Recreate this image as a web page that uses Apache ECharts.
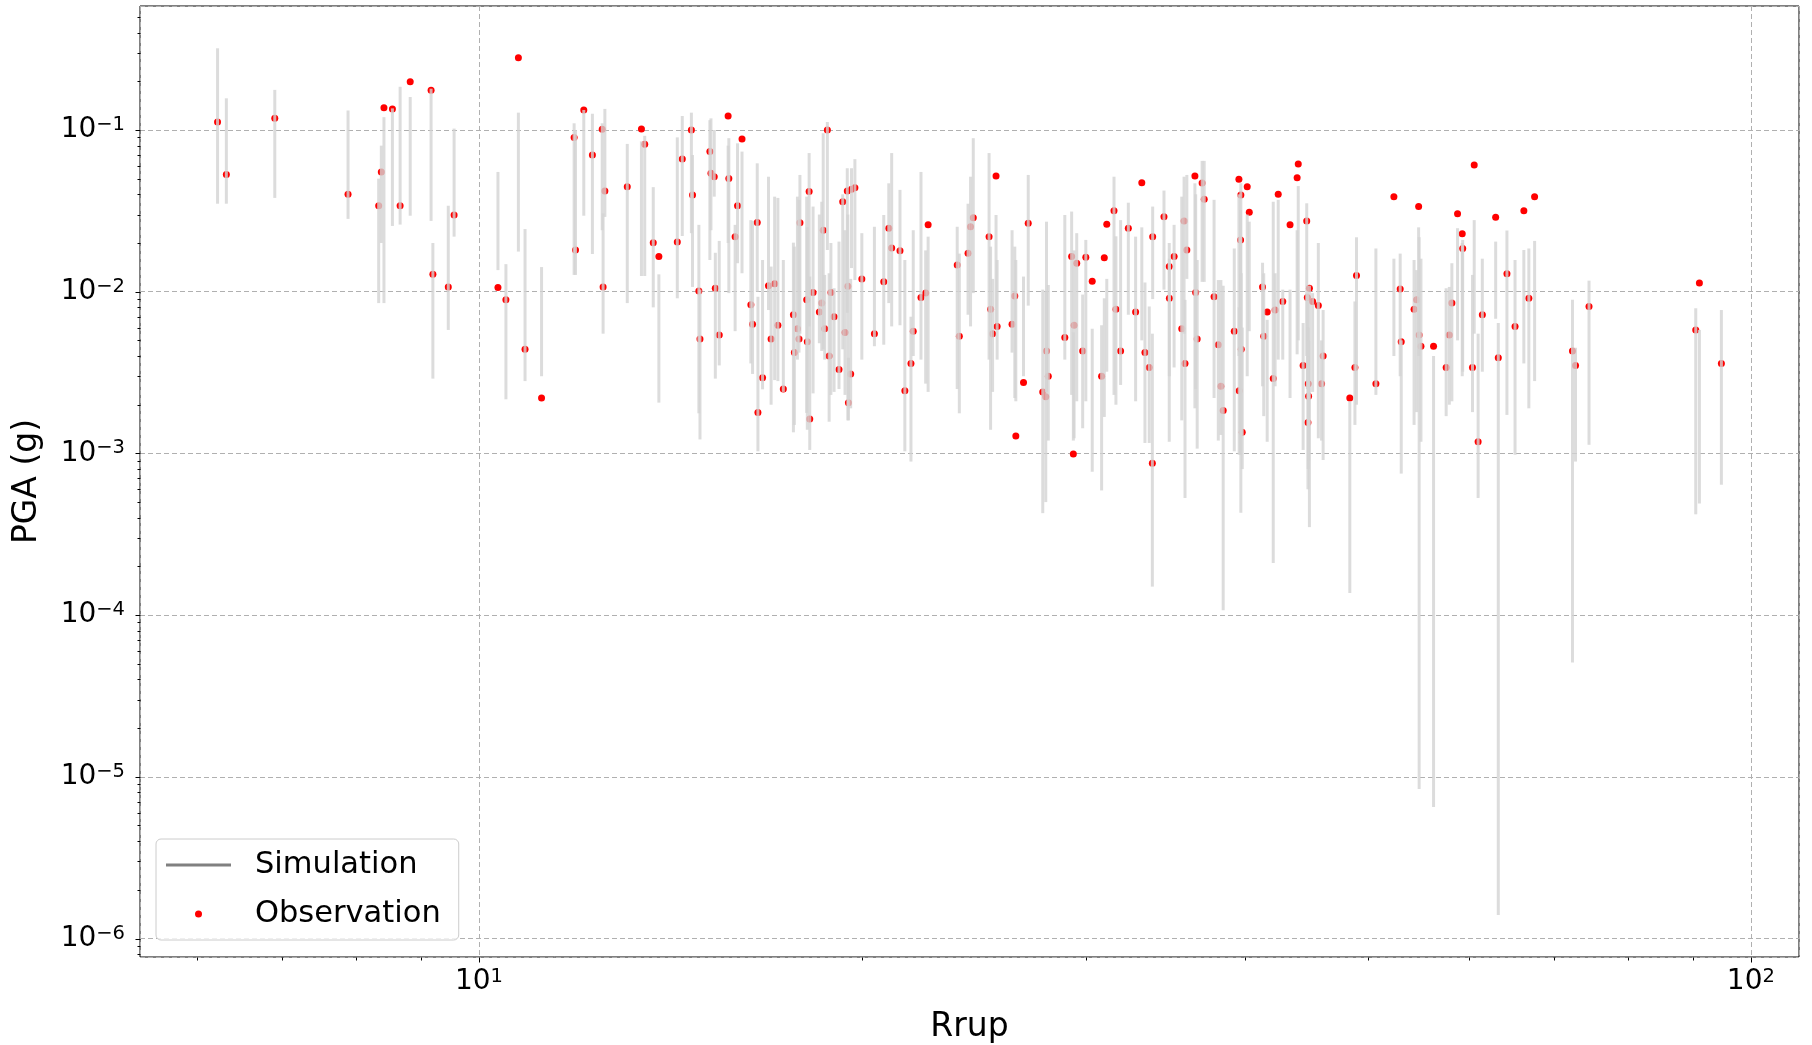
<!DOCTYPE html>
<html lang="en">
<head>
<meta charset="UTF-8">
<title>PGA vs Rrup</title>
<style>
  * { margin: 0; padding: 0; box-sizing: border-box; }
  html, body { width: 100%; height: 100%; overflow: hidden; background: #fff; }
  #box { width: 1812px; height: 1045px; }
</style>
</head>
<body>
<div id="box"></div>
<script src="https://cdn.jsdelivr.net/npm/echarts@6/dist/echarts.min.js"></script>
<script>
// one entry per station: rupture distance, observed PGA, simulated min / max
var rrup = [
  6.23, 6.33, 6.91, 7.89, 8.34, 8.42, 8.38, 8.55, 8.67, 8.83, 9.17, 9.2, 9.46, 9.56,
  10.35, 10.5, 10.74, 10.87, 11.2, 11.88, 11.91, 12.09, 12.28, 12.5, 12.56, 12.52, 13.08,
  13.42, 13.5, 13.71, 13.85, 14.32, 14.45, 14.69, 14.72, 14.89, 14.92, 15.19, 15.22, 15.31,
  15.34, 15.45, 15.7, 15.72, 16.1, 15.97, 15.9, 16.36, 16.41, 16.55, 16.57, 16.71, 16.89,
  17.08, 16.97, 17.18, 17.35, 17.88, 17.67, 17.8, 17.85, 17.7, 18.18, 18.1, 18.31, 18.12,
  18.2, 18.79, 18.65, 18.6, 18.52, 18.7, 18.85, 18.91, 19.02, 19.32, 19.48, 19.75, 19.63,
  19.5, 19.4, 19.6, 19.52, 19.19, 20.0, 20.46, 20.81, 21.0, 21.11, 21.43, 21.86, 21.62,
  21.95, 22.55, 22.26, 22.45, 23.77, 23.86, 24.47, 24.35, 24.24, 25.5, 25.18, 25.25, 25.55,
  25.34, 27.03, 26.38, 26.25, 26.8, 26.43, 27.94, 28.03, 27.75, 27.9, 28.88, 29.24, 29.51,
  29.37, 29.33, 30.0, 29.83, 30.35, 31.16, 31.02, 30.87, 31.57, 31.68, 31.95, 32.4, 32.83,
  33.2, 33.86, 33.39, 33.65, 33.84, 34.56, 34.89, 35.2, 34.9, 35.84, 36.02, 35.69, 35.9,
  36.55, 36.6, 37.03, 37.17, 36.7, 37.84, 38.13, 38.31, 38.47, 39.58, 40.18, 40.33, 39.72,
  39.7, 39.25, 39.75, 39.6, 39.82, 41.31, 41.4, 41.66, 42.26, 42.85, 42.5, 42.12, 44.07,
  43.98, 43.42, 44.75, 44.97, 44.8, 45.23, 45.7, 44.46, 44.87, 44.9, 44.85, 46.1, 45.97,
  48.97, 48.83, 48.38, 50.72, 52.4, 53.0, 53.1, 54.8, 54.6, 54.35, 54.85, 55.03, 56.3,
  57.6, 58.2, 57.93, 58.8, 59.3, 59.35, 60.6, 60.41, 61.03, 61.5, 63.0, 63.3, 64.3, 65.25,
  66.3, 67.6, 66.9, 72.4, 72.8, 74.6, 91.1, 90.5, 94.8
];
var obsPGA = [
  0.112, 0.053, 0.118, 0.040, 0.034, 0.137, 0.055, 0.135, 0.034, 0.199, 0.176, 0.0128, 0.0107, 0.0298,
  0.0106, 0.0089, 0.28, 0.0044, 0.0022, 0.0897, 0.0181, 0.133, 0.070, 0.101, 0.042, 0.0107, 0.0446,
  0.1015, 0.0815, 0.0201, 0.0165, 0.0203, 0.0662, 0.1, 0.0396, 0.0101, 0.0051, 0.0735, 0.054, 0.0514,
  0.0105, 0.0054, 0.122, 0.0502, 0.088, 0.034, 0.0219, 0.0083, 0.0063, 0.0268, 0.00179, 0.00294, 0.0109,
  0.0112, 0.0051, 0.0062, 0.0025, 0.0267, 0.0072, 0.0059, 0.0051, 0.0042, 0.0416, 0.0089, 0.0099, 0.0049,
  0.00163, 0.1, 0.024, 0.0085, 0.0075, 0.0059, 0.0040, 0.0099, 0.007, 0.036, 0.042, 0.044, 0.043,
  0.0108, 0.0056, 0.0031, 0.00206, 0.0033, 0.012, 0.0055, 0.0115, 0.0247, 0.0186, 0.0179, 0.0036, 0.00244,
  0.0057, 0.0259, 0.0092, 0.0098, 0.0146, 0.0053, 0.0287, 0.0252, 0.0173, 0.052, 0.0219, 0.0078, 0.0061,
  0.0055, 0.0265, 0.0094, 0.0063, 0.00274, 0.00128, 0.0043, 0.003, 0.0024, 0.00224, 0.0052, 0.0165, 0.015,
  0.0062, 0.00099, 0.0163, 0.0043, 0.0116, 0.0261, 0.0162, 0.003, 0.0317, 0.0078, 0.0043, 0.0247, 0.0075,
  0.0472, 0.0219, 0.0042, 0.0034, 0.00087, 0.0291, 0.0143, 0.0165, 0.0091, 0.0274, 0.0181, 0.0059, 0.0036,
  0.052, 0.0099, 0.047, 0.0373, 0.0051, 0.0093, 0.0047, 0.0026, 0.00184, 0.0496, 0.0446, 0.031, 0.0396,
  0.0209, 0.0057, 0.0044, 0.00244, 0.00135, 0.0107, 0.0053, 0.0075, 0.0077, 0.0087, 0.040, 0.0029, 0.0616,
  0.0507, 0.0259, 0.0274, 0.0105, 0.0092, 0.0087, 0.0082, 0.0035, 0.0027, 0.00226, 0.00155, 0.004, 0.0027,
  0.0126, 0.0034, 0.0022, 0.0027, 0.0387, 0.0104, 0.0049, 0.0336, 0.0089, 0.0078, 0.0054, 0.0046, 0.0046,
  0.0034, 0.0085, 0.0054, 0.0303, 0.0228, 0.0185, 0.0608, 0.0034, 0.00118, 0.0072, 0.0289, 0.0039, 0.0129, 0.0061,
  0.0317, 0.0387, 0.0091, 0.0043, 0.0035, 0.0081, 0.0113, 0.0058, 0.0036
];
var simMin = [
  0.035, 0.035, 0.038, 0.0282, 0.0085, 0.0085, 0.02, 0.0255, 0.026, 0.0295, 0.0274, 0.0029, 0.0058, 0.0219,
  0.0136, 0.00216, 0.0177, 0.0028, 0.003, 0.0127, 0.0127, 0.0295, 0.0171, 0.024, 0.029, 0.0055, 0.0085,
  0.0125, 0.0125, 0.008, 0.00206, 0.0091, 0.0221, 0.023, 0.0107, 0.00177, 0.00122, 0.0157, 0.024, 0.0387,
  0.0029, 0.0035, 0.02, 0.0098, 0.013, 0.015, 0.0057, 0.0036, 0.0031, 0.01, 0.00103, 0.00249, 0.0077,
  0.00284, 0.002, 0.0028, 0.0024, 0.0055, 0.00135, 0.0038, 0.0042, 0.0015, 0.0061, 0.00178, 0.00235, 0.0014,
  0.00105, 0.0181, 0.0044, 0.0043, 0.0048, 0.0038, 0.00157, 0.0023, 0.0024, 0.0044, 0.0074, 0.0118, 0.014,
  0.0016, 0.0023, 0.0019, 0.0016, 0.0025, 0.0038, 0.0046, 0.0047, 0.0085, 0.0061, 0.0062, 0.00089, 0.00103,
  0.004, 0.0024, 0.0038, 0.0027, 0.0025, 0.00177, 0.0098, 0.0061, 0.0072, 0.0064, 0.0038, 0.0014, 0.0038,
  0.0024, 0.0082, 0.0022, 0.0042, 0.003, 0.0021, 0.0024, 0.0012, 0.000427, 0.0005, 0.0038, 0.0023, 0.0021,
  0.00124, 0.0012, 0.0021, 0.00143, 0.00077, 0.0032, 0.00168, 0.00059, 0.0023, 0.002, 0.00265, 0.0072, 0.0021,
  0.005, 0.009, 0.00116, 0.00116, 0.00015, 0.0103, 0.00118, 0.0034, 0.003, 0.0055, 0.012, 0.0016, 0.00053,
  0.0019, 0.0025, 0.0115, 0.0115, 0.00107, 0.0022, 0.0012, 0.0013, 0.000107, 0.004, 0.003, 0.0057, 0.00043,
  0.00098, 0.00103, 0.0013, 0.00098, 0.0008, 0.0026, 0.0017, 0.00118, 0.0026, 0.0038, 0.0038, 0.00021, 0.005,
  0.0041, 0.0022, 0.004, 0.00035, 0.0025, 0.0024, 0.00124, 0.00105, 0.0008, 0.0009, 0.0006, 0.00091, 0.0012,
  0.002, 0.0015, 0.000137, 0.0023, 0.004, 0.003, 0.00075, 0.004, 0.0018, 0.0015, 0.0000084, 0.00118, 0.0000065,
  0.0017, 0.0021, 0.002, 0.005, 0.003, 0.0032, 0.0055, 0.0018, 0.00053, 0.0032, 0.0068, 0.0000014, 0.00173, 0.00098,
  0.0036, 0.0028, 0.0019, 0.000051, 0.00089, 0.00113, 0.00049, 0.00042, 0.00064
];
var simMax = [
  0.32, 0.157, 0.177, 0.132, 0.050, 0.12, 0.08, 0.136, 0.185, 0.16, 0.18, 0.02, 0.034, 0.102,
  0.055, 0.0148, 0.128, 0.0244, 0.0142, 0.11, 0.1, 0.133, 0.126, 0.11, 0.135, 0.0305, 0.082,
  0.085, 0.092, 0.0443, 0.0128, 0.09, 0.122, 0.128, 0.07, 0.0259, 0.0103, 0.115, 0.118, 0.1,
  0.0174, 0.0206, 0.08, 0.089, 0.0735, 0.0827, 0.0259, 0.0277, 0.0274, 0.0622, 0.0093, 0.0157, 0.0514,
  0.0387, 0.0143, 0.038, 0.0157, 0.0527, 0.0201, 0.0387, 0.037, 0.019, 0.072, 0.0387, 0.0336, 0.025,
  0.0124, 0.112, 0.0955, 0.036, 0.03, 0.0127, 0.013, 0.02, 0.0105, 0.04, 0.058, 0.066, 0.058,
  0.03, 0.024, 0.012, 0.0039, 0.0204, 0.023, 0.0252, 0.0298, 0.0468, 0.072, 0.0426, 0.007, 0.0157,
  0.024, 0.0219, 0.055, 0.018, 0.0252, 0.0172, 0.089, 0.0514, 0.035, 0.0298, 0.072, 0.019, 0.0157,
  0.012, 0.0527, 0.019, 0.024, 0.0124, 0.0157, 0.0271, 0.011, 0.0103, 0.01, 0.0298, 0.0313, 0.023,
  0.018, 0.0056, 0.0209, 0.0096, 0.0059, 0.012, 0.0091, 0.0062, 0.0514, 0.022, 0.0277, 0.0355, 0.0219,
  0.025, 0.0336, 0.0114, 0.0081, 0.0055, 0.0422, 0.02, 0.0259, 0.016, 0.0514, 0.0527, 0.0387, 0.0089,
  0.0468, 0.04, 0.0644, 0.0644, 0.0157, 0.037, 0.0118, 0.0118, 0.0109, 0.04, 0.03, 0.0271, 0.0468,
  0.032, 0.0185, 0.013, 0.008, 0.006, 0.0151, 0.013, 0.0067, 0.013, 0.0103, 0.037, 0.036, 0.045,
  0.024, 0.0103, 0.0352, 0.0109, 0.0098, 0.0098, 0.02, 0.0064, 0.006, 0.005, 0.004, 0.0077, 0.005,
  0.0217, 0.0087, 0.0021, 0.0185, 0.016, 0.0172, 0.005, 0.025, 0.0136, 0.0157, 0.0217, 0.016, 0.004,
  0.0105, 0.015, 0.0107, 0.0247, 0.02, 0.0209, 0.0277, 0.0127, 0.0055, 0.016, 0.0204, 0.0064, 0.0239, 0.0157,
  0.0181, 0.0206, 0.0185, 0.0089, 0.0045, 0.0117, 0.0058, 0.0079, 0.0077
];

var xMin = 5.414, xMax = 109.1;
var yMin = 7.685e-7, yMax = 0.5844;
var font = 'DejaVu Sans';

// tick marks drawn by hand: matplotlib-style log minor ticks at 2..9 x 10^k
var tickMarks = [];
for (var k = -7; k <= 2; k++) {
  for (var m = 1; m <= 9; m++) {
    var v = m * Math.pow(10, k);
    var len = m === 1 ? 5 : 3;
    if (v >= xMin && v <= xMax) tickMarks.push([v, yMin, 0, len]);
    if (v >= yMin && v <= yMax) tickMarks.push([xMin, v, 1, len]);
  }
}

function powLabel(v) {
  var lg = Math.log10(v);
  var e = Math.round(lg);
  if (Math.abs(lg - e) > 1e-6) return '';
  return '{b|10}{s|' + (e < 0 ? '\u2212' + (-e) : e) + '}';
}

var labelRich = {
  b: { fontFamily: font, fontSize: 28, color: '#000', lineHeight: 30 },
  s: { fontFamily: font, fontSize: 19.5, color: '#000', lineHeight: 20, verticalAlign: 'top' }
};

var simData = rrup.map(function (r, i) { return [r, simMin[i], simMax[i]]; });
var obsData = rrup.map(function (r, i) { return [r, obsPGA[i]]; });

var chart = echarts.init(document.getElementById('box'));
var option = {
  animation: false,
  backgroundColor: '#fff',
  grid: {
    left: 140, right: 13, top: 6, bottom: 88,
    outerBoundsMode: 'none',
    show: true, borderColor: '#000', borderWidth: 1, backgroundColor: 'transparent'
  },
  legend: {
    orient: 'vertical',
    left: 156, top: 839,
    data: [
      { name: 'Simulation', icon: 'path://M0,0H65V3H0Z', itemStyle: { color: '#808080' } },
      { name: 'Observation', icon: 'circle', itemStyle: { color: '#ff0000' } }
    ],
    itemWidth: 65, itemHeight: 7, itemGap: 13,
    padding: [8, 18, 8, 10],
    backgroundColor: 'rgba(255,255,255,0.8)',
    borderColor: '#cccccc', borderWidth: 1, borderRadius: 5,
    textStyle: { fontFamily: font, fontSize: 30.5, color: '#000', lineHeight: 36, padding: [0, 0, 0, 19] }
  },
  xAxis: {
    type: 'log', min: xMin, max: xMax,
    name: 'Rrup', nameLocation: 'middle', nameGap: 54,
    nameTextStyle: { fontFamily: font, fontSize: 33, color: '#000' },
    axisLine: { show: false },
    axisTick: { show: false },
    axisLabel: { margin: 10, formatter: powLabel, rich: labelRich, showMinLabel: false, showMaxLabel: false },
    splitLine: { show: true, lineStyle: { color: '#b0b0b0', width: 1, type: [5, 3] } }
  },
  yAxis: {
    type: 'log', min: yMin, max: yMax,
    name: 'PGA (g)', nameLocation: 'middle', nameGap: 96,
    nameTextStyle: { fontFamily: font, fontSize: 33, color: '#000' },
    axisLine: { show: false },
    axisTick: { show: false },
    axisLabel: { margin: 15, formatter: powLabel, rich: labelRich, showMinLabel: false, showMaxLabel: false },
    splitLine: { show: true, lineStyle: { color: '#b0b0b0', width: 1, type: [5, 3] } }
  },
  series: [
    {
      name: 'Observation',
      type: 'scatter',
      z: 2,
      symbol: 'circle',
      symbolSize: 7,
      itemStyle: { color: '#ff0000', opacity: 1 },
      data: obsData
    },
    {
      name: 'Simulation',
      type: 'custom',
      z: 3,
      encode: { x: 0, y: [1, 2] },
      itemStyle: { color: '#808080' },
      renderItem: function (params, api) {
        var lo = api.coord([api.value(0), api.value(1)]);
        var hi = api.coord([api.value(0), api.value(2)]);
        return {
          type: 'line',
          shape: { x1: lo[0], y1: lo[1], x2: hi[0], y2: hi[1] },
          style: { stroke: 'rgba(211,211,211,0.8)', lineWidth: 3 }
        };
      },
      data: simData
    },
    {
      name: 'ticks',
      type: 'custom',
      z: 4,
      silent: true,
      renderItem: function (params, api) {
        var p = api.coord([api.value(0), api.value(1)]);
        var len = api.value(3);
        var x = Math.round(p[0]) + 0.5, y = Math.round(p[1]) + 0.5;
        var shape = api.value(2) === 0
          ? { x1: x, y1: y, x2: x, y2: y + len }
          : { x1: x - len, y1: y, x2: x, y2: y };
        return { type: 'line', shape: shape, style: { stroke: '#000', lineWidth: 1 } };
      },
      data: tickMarks
    }
  ]
};
chart.setOption(option);
</script>
</body>
</html>
